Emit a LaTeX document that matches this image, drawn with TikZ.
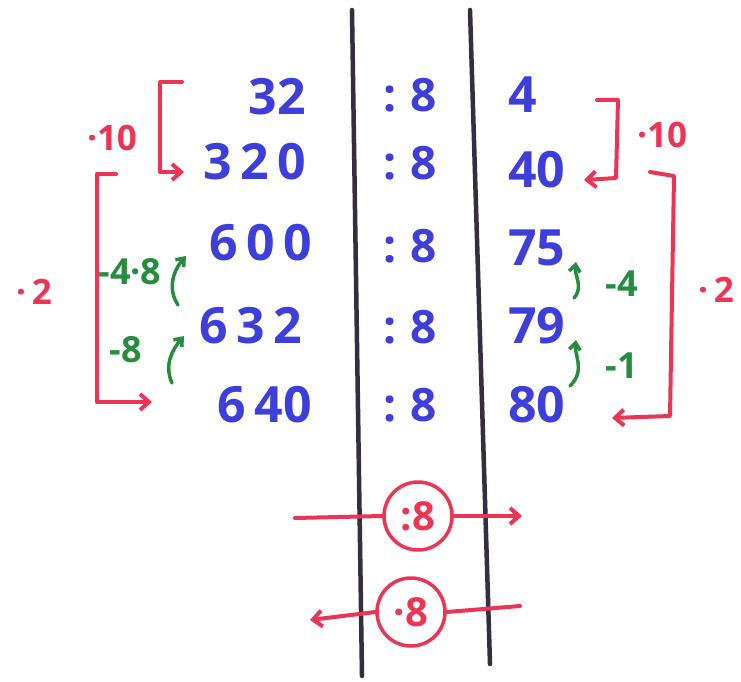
\documentclass[tikz,border=0pt]{standalone}
\usepackage{fontspec}
\setmainfont{Open Sans}
\usetikzlibrary{arrows.meta}
\definecolor{inkblue}{RGB}{62,62,218}
\definecolor{inkred}{RGB}{236,52,84}
\definecolor{inkgreen}{RGB}{38,140,62}
\definecolor{inkdark}{RGB}{52,46,62}
\begin{document}
\begin{tikzpicture}[x=1pt,y=-1pt,
  num/.style={text=inkblue,font=\fontsize{50}{50}\selectfont\bfseries,inner sep=0pt},
  divl/.style={text=inkblue,font=\fontsize{46}{46}\selectfont\bfseries,inner sep=0pt},
  redlab/.style={text=inkred,font=\fontsize{35}{35}\selectfont\bfseries,inner sep=0pt},
  greenlab/.style={text=inkgreen,font=\fontsize{36}{36}\selectfont\bfseries,inner sep=0pt},
  redline/.style={draw=inkred,line width=4pt,line cap=round,line join=round},
  redarrow/.style={redline,-{Straight Barb[length=9pt,width=16pt]}},
  greenarrow/.style={draw=inkgreen,line width=3.5pt,line cap=round,-{Straight Barb[length=7pt,width=11pt]}},
  wall/.style={draw=inkdark,line width=4.5pt,line cap=round},
  opcirc/.style={circle,draw=inkred,line width=3.5pt,text=inkred,font=\fontsize{40}{40}\selectfont\bfseries,minimum size=68pt,inner sep=0pt}]
\useasboundingbox (0,0) rectangle (741,682);
% walls
\coordinate (w1t) at (352,10); \coordinate (w1b) at (362,676);
\coordinate (w2t) at (470,10); \coordinate (w2b) at (490,664);
\draw[wall] (w1t) -- (w1b);
\draw[wall] (w2t) -- (w2b);
% left numbers
\node[num,anchor=east] (a1) at (306,97) {32};
\node[num,anchor=east] (a2) at (306,162) {3\,2\,0};
\node[num,anchor=east] (a3) at (312,243) {6\,0\,0};
\node[num,anchor=east] (a4) at (302,326) {6\,3\,2};
\node[num,anchor=east] (a5) at (312,405) {6\,40};
% middle
\node[divl] (d1) at (410,95) {:\hspace{0.3em}8};
\node[divl] (d2) at (410,163) {:\hspace{0.3em}8};
\node[divl] (d3) at (410,246) {:\hspace{0.3em}8};
\node[divl] (d4) at (410,327) {:\hspace{0.3em}8};
\node[divl] (d5) at (410,405) {:\hspace{0.3em}8};
% right numbers
\node[num,anchor=west] (b1) at (508,95) {4};
\node[num,anchor=west] (b2) at (508,170) {40};
\node[num,anchor=west] (b3) at (508,248) {75};
\node[num,anchor=west] (b4) at (508,326) {79};
\node[num,anchor=west] (b5) at (508,405) {80};
% left red brackets
\coordinate (lt1) at (182,82); \coordinate (lt2) at (160,82); \coordinate (lt3) at (160,172); \coordinate (lt4) at (184,172);
\draw[redarrow] (lt1) -- (lt2) -- (lt3) -- (lt4);
\node[redlab] (l10) at (112,138) {·10};
\coordinate (lb1) at (116,174); \coordinate (lb2) at (97,174); \coordinate (lb3) at (97,402); \coordinate (lb4) at (152,402);
\draw[redarrow] (lb1) -- (lb2) -- (lb3) -- (lb4);
\node[redlab] (l2) at (34,292) {·\,2};
% left green
\node[greenlab] (g1) at (130,272) {-4·8};
\coordinate (g1s) at (178,305);
\draw[greenarrow] (g1s) .. controls (168,290) and (172,272) .. (186,256);
\node[greenlab] (g2) at (126,350) {-8};
\coordinate (g2s) at (172,383);
\draw[greenarrow] (g2s) .. controls (164,365) and (172,350) .. (184,336);
% right red brackets
\coordinate (rt1) at (597,100); \coordinate (rt2) at (618,100); \coordinate (rt3) at (616,178); \coordinate (rt4) at (584,180);
\draw[redarrow] (rt1) -- (rt2) -- (rt3) -- (rt4);
\node[redlab] (r10) at (662,135) {·10};
\coordinate (rb1) at (650,172); \coordinate (rb2) at (674,176); \coordinate (rb3) at (670,416); \coordinate (rb4) at (612,418);
\draw[redarrow] (rb1) -- (rb2) -- (rb3) -- (rb4);
\node[redlab] (r2) at (716,290) {·\,2};
% right green
\coordinate (h1s) at (574,298);
\draw[greenarrow] (h1s) .. controls (584,286) and (574,276) .. (576,262);
\node[greenlab] (h1) at (622,284) {-4};
\coordinate (h2s) at (570,386);
\draw[greenarrow] (h2s) .. controls (586,370) and (574,355) .. (576,340);
\node[greenlab] (h2) at (622,366) {-1};
% bottom operators
\node[opcirc] (c1) at (418,516) {:8};
\node[opcirc] (c2) at (411,612) {·8};
\coordinate (c1l) at (295,518); \coordinate (c1r) at (522,516);
\draw[redline] (c1l) -- (c1.west);
\draw[redarrow] (c1.east) -- (c1r);
\coordinate (c2r) at (520,606); \coordinate (c2l) at (310,620);
\draw[redline] (c2r) -- (c2.east);
\draw[redarrow] (c2.west) -- (c2l);
\end{tikzpicture}
\end{document}
